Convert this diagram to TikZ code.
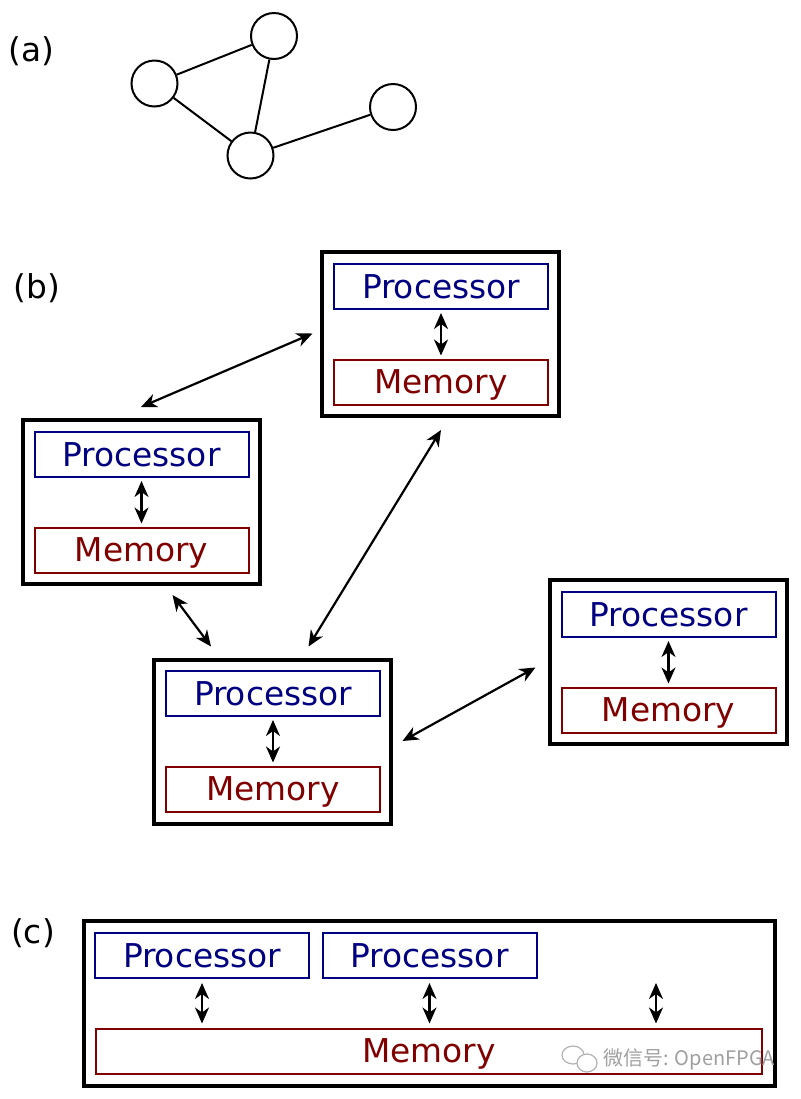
\documentclass[tikz,border=0pt]{standalone}
\usepackage{fontspec}
\setmainfont{DejaVu Sans}
\newfontfamily\cjkwm{Noto Sans CJK SC}
\usetikzlibrary{arrows.meta,calc}
\definecolor{navyc}{RGB}{0,0,128}
\definecolor{maroonc}{RGB}{128,0,0}
\begin{document}
\begin{tikzpicture}[x=0.5pt,y=-0.5pt,
 every node/.style={font=\fontsize{16.4pt}{19pt}\selectfont},
 vert/.style={circle,draw,line width=1pt,minimum size=23pt,inner sep=0pt},
 gline/.style={line width=1pt},
 outerbox/.style={draw,line width=2pt,minimum width=118.5pt,minimum height=82pt,inner sep=0pt},
 procbox/.style={draw=navyc,text=navyc,line width=1pt,minimum width=107pt,minimum height=22.5pt,inner sep=0pt,text height=11.9pt,text depth=0pt},
 membox/.style={procbox,draw=maroonc,text=maroonc},
 link/.style={line width=1.1pt,{Stealth[length=8pt,width=7pt,inset=2.5pt]}-{Stealth[length=8pt,width=7pt,inset=2.5pt]}},
 inlink/.style={link,shorten <=1.5pt,shorten >=1.5pt},
 lab/.style={inner sep=0pt}
]
\useasboundingbox (0,0) rectangle (800,1099);

% ---------- (a) ----------
\node[lab] (la) at (31.5,51) {(a)};
\node[vert] (v1) at (154.5,83.5) {};
\node[vert] (v2) at (274,36) {};
\node[vert] (v3) at (250.5,155.5) {};
\node[vert] (v4) at (393,107) {};
\draw[gline] (v1) -- (v2);
\draw[gline] (v1) -- (v3);
\draw[gline] (v2) -- (v3);
\draw[gline] (v3) -- (v4);

% ---------- (b) ----------
\node[lab] (lb) at (37,288) {(b)};

\node[outerbox] (b1) at (440.5,334) {};
\node[procbox] (b1p) at ($(b1)+(0.5,-47.5)$) {Processor};
\node[membox] (b1m) at ($(b1)+(0.5,48)$) {Memory};
\draw[inlink] (b1p) -- (b1m);

\node[outerbox] (b2) at (141.5,502) {};
\node[procbox] (b2p) at ($(b2)+(0,-47.5)$) {Processor};
\node[membox] (b2m) at ($(b2)+(0,48)$) {Memory};
\draw[inlink] (b2p) -- (b2m);

\node[outerbox] (b3) at (272.5,741.5) {};
\node[procbox] (b3p) at ($(b3)+(0.5,-48)$) {Processor};
\node[membox] (b3m) at ($(b3)+(0.5,47.5)$) {Memory};
\draw[inlink] (b3p) -- (b3m);

\node[outerbox] (b4) at (668.5,661.5) {};
\node[procbox] (b4p) at ($(b4)+(0,-47)$) {Processor};
\node[membox] (b4m) at ($(b4)+(0,48.5)$) {Memory};
\draw[inlink] (b4p) -- (b4m);

\coordinate (e21) at (141,407);
\coordinate (e12) at (312.5,333.5);
\coordinate (e13) at (441,430);
\coordinate (e31) at (308.5,646.5);
\coordinate (e23) at (172.5,595);
\coordinate (e32) at (211,646.5);
\coordinate (e34) at (402.5,741);
\coordinate (e43) at (535.5,667.5);
\draw[link] (e21) -- (e12);
\draw[link] (e13) -- (e31);
\draw[link] (e23) -- (e32);
\draw[link] (e34) -- (e43);

% ---------- (c) ----------
\node[lab] (lc) at (33,933) {(c)};
\node[draw,line width=2pt,minimum width=345.75pt,minimum height=82.75pt,inner sep=0pt] (cbox) at (429.25,1003.25) {};
\node[procbox] (cp1) at (202,955.5) {Processor};
\node[procbox] (cp2) at (429.5,955.5) {Processor};
\node[membox,minimum width=333pt] (cm) at (429,1051) {Memory};
\coordinate (cfree) at (656,979);
\draw[link,shorten <=2pt,shorten >=2pt] (cp1.south) -- (cp1.south |- cm.north);
\draw[link,shorten <=2pt,shorten >=2pt] (cp2.south) -- (cp2.south |- cm.north);
\draw[link,shorten <=2pt,shorten >=2pt] (cfree) -- (cfree |- cm.north);

% ---------- watermark ----------
\draw[gray!60,line width=0.6pt,fill=white] (573,1055) ellipse [x radius=5.5pt,y radius=4.5pt];
\draw[gray!60,line width=0.6pt,fill=white] (587,1063) ellipse [x radius=5pt,y radius=4.5pt];
\node[text=gray!75,font=\cjkwm\fontsize{10pt}{12pt}\selectfont,anchor=west,inner sep=0pt] (wm) at (603,1059) {微信号: OpenFPGA};
\end{tikzpicture}
\end{document}
